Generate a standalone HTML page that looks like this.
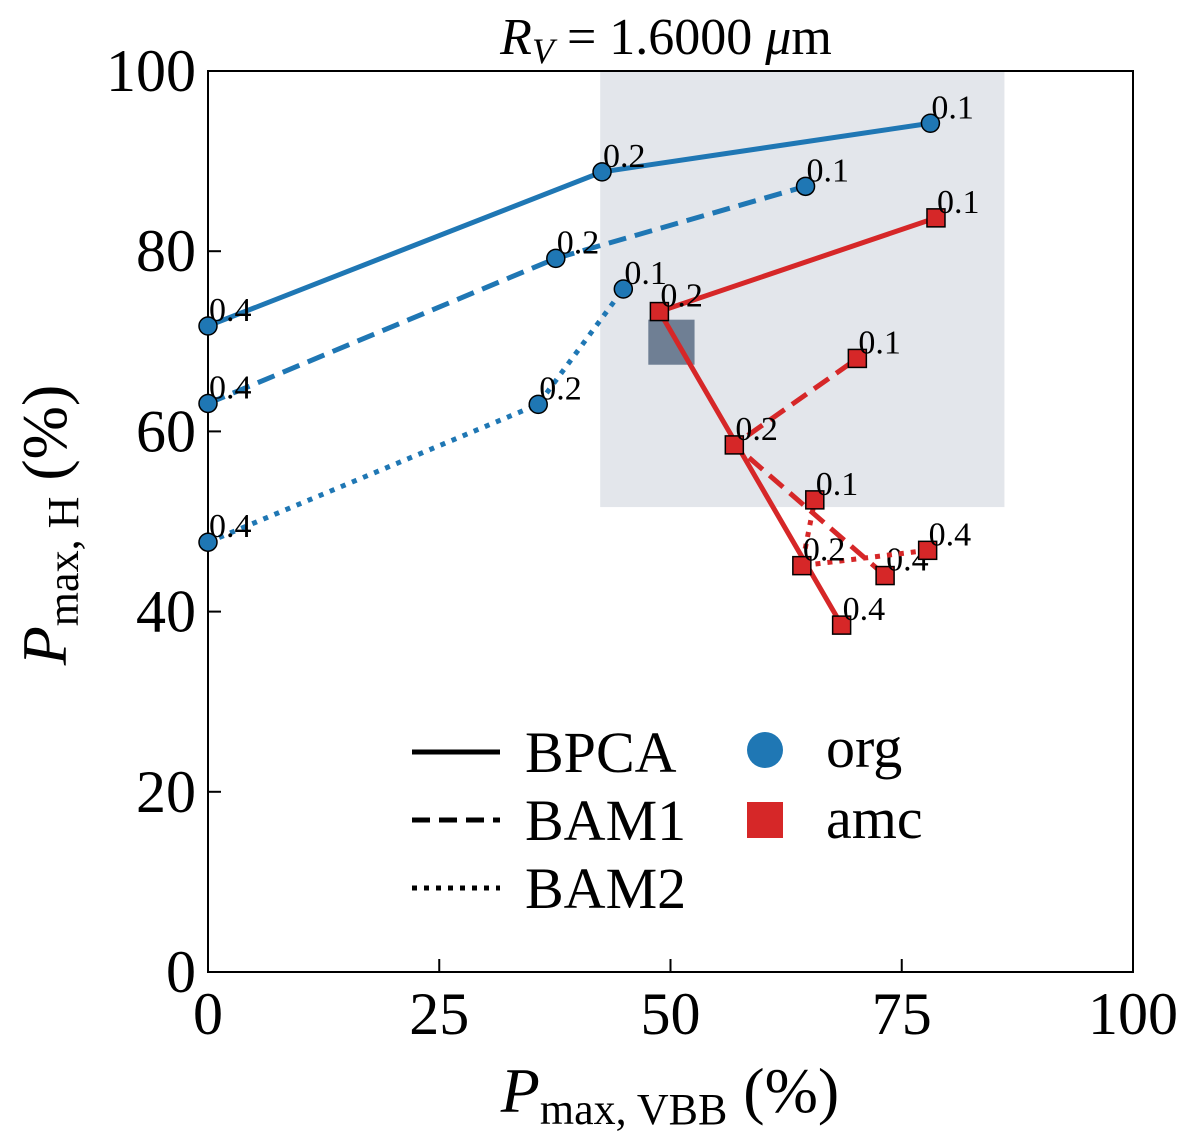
<!DOCTYPE html>
<html><head><meta charset="utf-8"><style>
html,body{margin:0;padding:0;background:#fff;}
svg text{font-family:"Liberation Serif",serif;fill:#000;}
</style></head><body>
<svg id="chart" width="1200" height="1142">
<g id="bg"></g><g id="axes"></g><g id="series"></g><g id="legend"></g>
</svg>
<script>
const xTicks=[0,25,50,75,100];
const yTicks=[0,20,40,60,80,100];
const orgBPCA_x=[0,42.6,78.1], orgBPCA_y=[71.7,88.8,94.2], orgBPCA_l=["0.4","0.2","0.1"];
const orgBAM1_x=[0,37.6,64.6], orgBAM1_y=[63.1,79.2,87.2], orgBAM1_l=["0.4","0.2","0.1"];
const orgBAM2_x=[0,35.7,44.9], orgBAM2_y=[47.7,63.0,75.8], orgBAM2_l=["0.4","0.2","0.1"];
const amcBPCA_x=[68.5,48.8,78.7], amcBPCA_y=[38.5,73.3,83.7], amcBPCA_l=["0.4","0.2","0.1"];
const amcBAM1_x=[73.2,56.9,70.2], amcBAM1_y=[44.0,58.5,68.1], amcBAM1_l=["0.4","0.2","0.1"];
const amcBAM2_x=[77.8,64.2,65.6], amcBAM2_y=[46.8,45.1,52.4], amcBAM2_l=["0.4","0.2","0.1"];
const shade=[42.4,86.1,51.6,100];
const box=[47.6,52.6,67.4,72.4];

const NS="http://www.w3.org/2000/svg";
const X0=208,X1=1133,Y0=972,Y1=71;
const sx=v=>X0+(v-0)/(100)*(X1-X0);
const sy=v=>Y0-(v-0)/(100)*(Y0-Y1);
function mk(tag,attrs,parent,txt){const e=document.createElementNS(NS,tag);for(const k in attrs)e.setAttribute(k,attrs[k]);if(txt!==undefined)e.textContent=txt;document.getElementById(parent).appendChild(e);return e;}

let r=mk('rect',{x:sx(shade[0]),y:sy(shade[3]),width:sx(shade[1])-sx(shade[0]),height:sy(shade[2])-sy(shade[3]),fill:'#e3e6eb'},'bg');


r=mk('rect',{x:sx(box[0]),y:sy(box[3]),width:sx(box[1])-sx(box[0]),height:sy(box[2])-sy(box[3]),fill:'#6f7f94'},'bg');



let a=mk('rect',{x:X0,y:Y1,width:X1-X0,height:Y0-Y1,fill:'none',stroke:'#000','stroke-width':2},'axes');


xTicks.forEach(t=>{
 mk('line',{x1:sx(t),x2:sx(t),y1:Y0,y2:Y0-13,stroke:'#000','stroke-width':2},'axes');
 let e=mk('text',{x:sx(t),y:Y0+62,'font-size':60,'text-anchor':'middle'},'axes',t);
 
 
});
yTicks.forEach(t=>{
 mk('line',{x1:X0,x2:X0+13,y1:sy(t),y2:sy(t),stroke:'#000','stroke-width':2},'axes');
 let e=mk('text',{x:X0-12,y:sy(t)+20,'font-size':60,'text-anchor':'end'},'axes',t);
 
 
});
let t=mk('text',{x:670,y:1112,'font-size':64,'text-anchor':'middle'},'axes');
t.innerHTML='<tspan font-style="italic">P</tspan><tspan font-size="44" dy="12">max, VBB</tspan><tspan dy="-12"> (%)</tspan>';


t=mk('text',{x:0,y:0,'font-size':64,'text-anchor':'middle',transform:'translate(66,525) rotate(-90)'},'axes');
t.innerHTML='<tspan font-style="italic">P</tspan><tspan font-size="44" dy="12">max, H</tspan><tspan dy="-12"> (%)</tspan>';


t=mk('text',{x:666,y:54,'font-size':52,'text-anchor':'middle'},'axes');
t.innerHTML='<tspan font-style="italic">R</tspan><tspan font-style="italic" font-size="36" dy="9">V</tspan><tspan dy="-9"> = 1.6000 </tspan><tspan font-style="italic">μ</tspan>m';



const dashes={solid:'',dash:'18,9',dot:'5,7'};
function series(xs,ys,ls,color,style,shape,name){
 let d=xs.map((v,i)=>(i?'L':'M')+sx(v)+','+sy(ys[i])).join(' ');
 let p=mk('path',{d:d,fill:'none',stroke:color,'stroke-width':5,'stroke-dasharray':dashes[style]},'series');
 
 
 xs.forEach((v,i)=>{
  let m;
  if(shape==='c') m=mk('circle',{cx:sx(v),cy:sy(ys[i]),r:9,fill:color,stroke:'#000','stroke-width':1.5},'series');
  else m=mk('rect',{x:sx(v)-9,y:sy(ys[i])-9,width:18,height:18,fill:color,stroke:'#000','stroke-width':1.5},'series');
  
  
  let l=mk('text',{x:sx(v)+1,y:sy(ys[i])-5,'font-size':34},'series',ls[i]);
  
  
 });
}
const B='#1f77b4',R='#d62728';
series(orgBPCA_x,orgBPCA_y,orgBPCA_l,B,'solid','c','org-bpca');
series(orgBAM1_x,orgBAM1_y,orgBAM1_l,B,'dash','c','org-bam1');
series(orgBAM2_x,orgBAM2_y,orgBAM2_l,B,'dot','c','org-bam2');
series(amcBPCA_x,amcBPCA_y,amcBPCA_l,R,'solid','s','amc-bpca');
series(amcBAM1_x,amcBAM1_y,amcBAM1_l,R,'dash','s','amc-bam1');
series(amcBAM2_x,amcBAM2_y,amcBAM2_l,R,'dot','s','amc-bam2');

[['BPCA','solid',752],['BAM1','dash',820],['BAM2','dot',888]].forEach(([n,s,y])=>{
 let l=mk('line',{x1:412,x2:500,y1:y,y2:y,stroke:'#000','stroke-width':5,'stroke-dasharray':dashes[s]},'legend');
 
 
 let e=mk('text',{x:525,y:y+20,'font-size':58},'legend',n);
 
 
});
let c=mk('circle',{cx:765,cy:750,r:18,fill:B},'legend');


let e=mk('text',{x:826,y:767,'font-size':58},'legend','org');


c=mk('rect',{x:747,y:802,width:36,height:36,fill:R},'legend');


e=mk('text',{x:826,y:838,'font-size':58},'legend','amc');


</script>
</body></html>
